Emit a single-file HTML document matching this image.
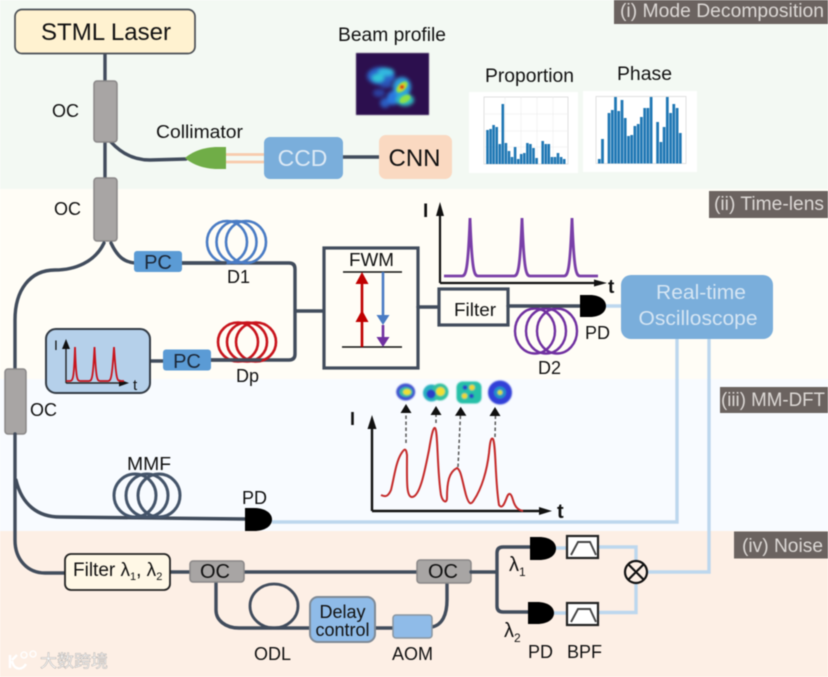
<!DOCTYPE html>
<html><head><meta charset="utf-8"><style>
html,body{margin:0;padding:0;background:#fff;width:828px;height:677px;overflow:hidden}
svg{display:block;filter:blur(.42px)}
text{font-family:"Liberation Sans","Noto Sans CJK SC",sans-serif;fill:#111}
.f{fill:none;stroke:#414c5c;stroke-width:3.4;stroke-linecap:round;stroke-linejoin:round}
.l{fill:none;stroke:#bdd7ee;stroke-width:3.4}
.oc{fill:#a8a5a4;stroke:#8a8888;stroke-width:1.5}
.tag{fill:#6b6360}
.tt{fill:#dcd8d5;font-size:19px}
.lb{font-size:18px}
.pd{fill:#000}
</style></head><body>
<svg width="828" height="677" viewBox="0 0 828 677" xmlns="http://www.w3.org/2000/svg">
<defs>
<filter id="b3" x="-50%" y="-50%" width="200%" height="200%"><feGaussianBlur stdDeviation="1.8"/></filter>
<filter id="b1" x="-50%" y="-50%" width="200%" height="200%"><feGaussianBlur stdDeviation=".7"/></filter>
</defs>
<rect x="0" y="0" width="828" height="189" fill="#f3f9f3"/>
<rect x="0" y="189" width="828" height="190" fill="#fffdf6"/>
<rect x="0" y="379" width="828" height="152" fill="#f8fbff"/>
<rect x="0" y="531" width="828" height="146" fill="#fdefe5"/>

<!-- section tags -->
<rect class="tag" x="614" y="0" width="214" height="24"/>
<text class="tt" x="620" y="17" textLength="204" lengthAdjust="spacingAndGlyphs">(i) Mode Decomposition</text>
<rect class="tag" x="709" y="191" width="119" height="27"/>
<text class="tt" x="714" y="210" textLength="110" lengthAdjust="spacingAndGlyphs">(ii) Time-lens</text>
<rect class="tag" x="720" y="387" width="108" height="26"/>
<text class="tt" x="721" y="406" textLength="104" lengthAdjust="spacingAndGlyphs">(iii) MM-DFT</text>
<rect class="tag" x="734" y="531.5" width="94" height="27"/>
<text class="tt" x="742" y="552" textLength="81" lengthAdjust="spacingAndGlyphs">(iv) Noise</text>

<!-- top section -->
<path class="f" d="M105,54V81M105,142V178M111,142C120,152 132,160 150,160L186,159M343,157H379"/>
<rect x="15" y="9.5" width="180" height="44" rx="7" fill="#fff2d0" stroke="#4a4f55" stroke-width="1.7"/>
<text x="41" y="40" font-size="24" textLength="130" lengthAdjust="spacingAndGlyphs">STML Laser</text>
<rect class="oc" x="94" y="81" width="23" height="61" rx="3"/>
<rect class="oc" x="94" y="178" width="23" height="63" rx="3"/>
<text class="lb" x="52" y="117">OC</text>
<text class="lb" x="54" y="215">OC</text>
<text x="156" y="138" font-size="18" textLength="87" lengthAdjust="spacingAndGlyphs">Collimator</text>
<path d="M226,147H218C203,147 192,152 185,158C192,164 203,169 218,169H226Z" fill="#70ad47"/>
<path d="M226,154.5H264M226,162H264" stroke="#f8cbad" stroke-width="2.8" fill="none"/>
<rect x="264" y="137" width="79" height="42" rx="6" fill="#7aaedb"/>
<text x="302.5" y="166" font-size="23" text-anchor="middle" style="fill:#dce9f5">CCD</text>
<rect x="379" y="135" width="73" height="44" rx="7" fill="#fad9c1"/>
<text x="414.5" y="166" font-size="24" text-anchor="middle">CNN</text>

<text x="338" y="41" font-size="19" textLength="108" lengthAdjust="spacingAndGlyphs">Beam profile</text>
<svg x="356" y="53" width="73" height="62" viewBox="356 53 73 62">
<rect x="356" y="53" width="73" height="62" fill="#2c0f4e"/>
<g filter="url(#b3)">
<ellipse cx="381" cy="76" rx="14" ry="9" fill="#2a62c8"/>
<ellipse cx="386" cy="72" rx="8" ry="4" fill="#30b8e0"/>
<ellipse cx="378" cy="78" rx="6" ry="4" fill="#30c8d8"/>
<ellipse cx="379" cy="93" rx="6" ry="4" fill="#2a3f9f"/>
<ellipse cx="385" cy="103" rx="5" ry="5" fill="#2c5cc0"/>
<ellipse cx="393" cy="98" rx="6" ry="7" fill="#2c78e0"/>
<ellipse cx="386" cy="85" rx="6" ry="3" fill="#2a50b0"/>
<ellipse cx="402" cy="87" rx="9" ry="10" fill="#2f9fe0"/>
<ellipse cx="405" cy="100" rx="9" ry="6" fill="#30c0c0"/>
</g>
<g filter="url(#b1)">
<ellipse cx="405" cy="99" rx="6" ry="3.5" fill="#8fe04a" transform="rotate(-30 405 99)"/>
<ellipse cx="402" cy="87" rx="7" ry="4" fill="#8fe04a" transform="rotate(-45 402 87)"/>
<ellipse cx="402" cy="87" rx="4" ry="2.8" fill="#e8c820" transform="rotate(-45 402 87)"/>
<ellipse cx="402" cy="87" rx="2" ry="1.7" fill="#d01818"/>
</g>
</svg>

<text x="485" y="82" font-size="19" textLength="89" lengthAdjust="spacingAndGlyphs">Proportion</text>
<text x="617" y="80" font-size="19" textLength="55" lengthAdjust="spacingAndGlyphs">Phase</text>
<rect x="469" y="92" width="109" height="81" fill="#fff"/>
<rect x="583" y="91" width="114" height="81" fill="#fff"/>
<rect x="484" y="97" width="84" height="67" fill="none" stroke="#d5d5d5" stroke-width=".7"/>
<path d="M505,97V164M521,97V164M537,97V164M553,97V164M484,114H568M484,131H568M484,147H568" stroke="#ececec" stroke-width=".6"/>
<path fill="none" stroke="#1f77b4" stroke-width="2.6" d="M487.5,164V130M490.6,164V129M493.6,164V125M496.7,164V127M499.8,164V144M502.8,164V104M505.9,164V143M509,164V151M512,164V157M515.1,164V147M518.2,164V159M521.2,164V154M524.3,164V153M527.4,164V143M530.4,164V144M533.5,164V148M536.6,164V158M542.7,164V141M545.8,164V144M548.8,164V144M551.9,164V157M555,164V157M558,164V153M561.1,164V157M564.2,164V159"/>
<rect x="596" y="96.5" width="90" height="67" fill="none" stroke="#d5d5d5" stroke-width=".7"/>
<path fill="none" stroke="#1f77b4" stroke-width="2.75" d="M599.3,163.5V159M602.5,163.5V139M609,163.5V113M612.3,163.5V110M615.5,163.5V97M618.7,163.5V111M622,163.5V100M625.2,163.5V118M628.5,163.5V136M631.7,163.5V135M634.9,163.5V126M638.2,163.5V124M641.4,163.5V117M644.7,163.5V108M647.9,163.5V108M651.1,163.5V97M657.6,163.5V122M660.9,163.5V142M664.1,163.5V127M667.3,163.5V97M670.6,163.5V113M673.8,163.5V104M677.1,163.5V108M680.3,163.5V133"/>

<!-- time-lens -->
<path class="f" d="M104,243C95,262 75,270 55,270C30,270 15,290 15,320V369M111,243C118,258 125,262 135,263M182,263H289Q295,263 295,269V354Q295,360 289,360H211M149,361H163M295,311H324"/>
<g fill="none" stroke="#4a7cc4" stroke-width="2.6">
<ellipse cx="227" cy="242" rx="20" ry="21"/><ellipse cx="236.5" cy="242" rx="20" ry="21"/><ellipse cx="246" cy="242" rx="20" ry="21"/>
</g>
<g fill="none" stroke="#c8141c" stroke-width="2.6">
<ellipse cx="238" cy="342" rx="20" ry="19.5"/><ellipse cx="247" cy="342" rx="20" ry="19.5"/><ellipse cx="256" cy="342" rx="20" ry="19.5"/>
</g>
<path class="f" d="M182,263H225M211,360H260"/>
<rect x="134" y="251" width="48" height="21" rx="3" fill="#5b9bd5"/>
<text x="158" y="269" font-size="20" text-anchor="middle" style="fill:#1c2838">PC</text>
<rect x="163" y="349.5" width="48" height="21" rx="3" fill="#5b9bd5"/>
<text x="187" y="368" font-size="20" text-anchor="middle" style="fill:#1c2838">PC</text>
<text class="lb" x="227" y="283">D1</text>
<text class="lb" x="236" y="382">Dp</text>

<rect x="46" y="329" width="104" height="64" rx="10" fill="#b5d0ea" stroke="#333b45" stroke-width="2"/>
<path d="M66,383V345M66,383H124" stroke="#222" stroke-width="1.4" fill="none"/>
<path d="M66,339L62,349H70ZM129,383L119,379.5V386.5Z" fill="#111"/>
<text x="54" y="350" font-size="14">I</text>
<text x="133" y="390" font-size="15">t</text>
<path d="M66,381H70C73,381 74,378 75,347C76,378 77,381 80,381H89C92,381 93,378 94.5,347C96,378 97,381 100,381H108C111,381 112,378 114,347C116,378 117,381 120,381H124" fill="none" stroke="#c8141c" stroke-width="1.8"/>

<rect x="324" y="248" width="94" height="120" fill="#fffdf6" stroke="#414c5c" stroke-width="3.2"/>
<text x="349" y="266" font-size="18" textLength="45" lengthAdjust="spacingAndGlyphs">FWM</text>
<path d="M343,272H402M342,347H402" stroke="#111" stroke-width="1.6"/>
<path d="M362,347V280" stroke="#c00000" stroke-width="2.6"/>
<path d="M362,272L355.5,284H368.5ZM362,310L355.5,322H368.5Z" fill="#c00000"/>
<path d="M383,272V318" stroke="#4a7cc4" stroke-width="2.6"/>
<path d="M383,325L376.5,315H389.5Z" fill="#4a7cc4"/>
<path d="M383,325V342" stroke="#7030a0" stroke-width="2.6"/>
<path d="M383,347L376.5,337H389.5Z" fill="#7030a0"/>

<path d="M440,283V208M440,283H600" fill="none" stroke="#111" stroke-width="2.2"/>
<path d="M440,202L436,216H444ZM607,283L594,279.5V286.5Z" fill="#111"/>
<text x="423" y="217" font-size="19" font-weight="bold">I</text>
<text x="608" y="293" font-size="19" font-weight="bold">t</text>
<path d="M444,276H462C466,276 468,270 470,218C472,270 474,276 478,276H514C518,276 520,270 522,218C524,270 526,276 530,276H564C568,276 570,270 572,218C574,270 576,276 580,276H598" fill="none" stroke="#7a3fa8" stroke-width="2.8"/>

<path class="f" d="M418,307H439"/>
<rect x="439" y="289" width="69" height="36" fill="#fffdf6" stroke="#414c5c" stroke-width="3.2"/>
<text x="454" y="316" font-size="18" textLength="42" lengthAdjust="spacingAndGlyphs">Filter</text>
<g fill="none" stroke="#7030a0" stroke-width="2.4">
<ellipse cx="535" cy="331" rx="20" ry="22.5"/><ellipse cx="546" cy="331" rx="20" ry="22.5"/><ellipse cx="557" cy="331" rx="20" ry="22.5"/>
</g>
<path class="f" d="M508,306H580"/>
<path class="pd" d="M580,295H590C600,295 606,300 606,306C606,312 600,317 590,317H580Z"/>
<text class="lb" x="585" y="339">PD</text>
<text class="lb" x="538" y="374">D2</text>
<path class="l" d="M606,306H622M677,339V522H272M709,339V572H648"/>
<rect x="621" y="275" width="152" height="64" rx="10" fill="#7aaedb"/>
<text x="701" y="299" font-size="20" text-anchor="middle" textLength="90" lengthAdjust="spacingAndGlyphs" style="fill:#d5e5f3">Real-time</text>
<text x="698" y="325" font-size="20" text-anchor="middle" textLength="119" lengthAdjust="spacingAndGlyphs" style="fill:#d5e5f3">Oscilloscope</text>

<!-- MM-DFT -->
<rect class="oc" x="5" y="369" width="21" height="65" rx="3"/>
<text class="lb" x="30" y="416">OC</text>
<path class="f" d="M15,434V540C15,560 28,573 45,573H65M16,480C22,505 38,517 60,517L245,519"/>
<g fill="none" stroke="#44546a" stroke-width="3">
<ellipse cx="135" cy="495.5" rx="21" ry="21.5"/><ellipse cx="147" cy="495.5" rx="21" ry="21.5"/><ellipse cx="159" cy="495.5" rx="21" ry="21.5"/>
</g>
<text class="lb" x="127" y="470" textLength="44" lengthAdjust="spacingAndGlyphs">MMF</text>
<path class="pd" d="M245,508H254C265,508 272,513 272,519.5C272,526 265,531 254,531H245Z"/>
<text class="lb" x="242" y="504">PD</text>

<path d="M372,511V422M372,511H545" fill="none" stroke="#111" stroke-width="2.4"/>
<path d="M372,415L367.5,429H376.5ZM552,511L539,507V515Z" fill="#111"/>
<text x="350" y="425" font-size="18" font-weight="bold">I</text>
<text x="557" y="518" font-size="20" font-weight="bold">t</text>
<path d="M381,495C385,497 388,497 391,490C394,478 396,462 401,454C404,449 406,447 407,455C407,480 406,497 412,497C420,497 425,470 429,450C431,438 433,427 435,428C438,430 437,470 441,495C443,503 447,503 447,498C447,482 449,472 457,468C461,470 462,480 466,495C469,505 471,505 474,500C482,488 487,470 489,453C490,442 491,437 493,439C496,445 495,480 499,505C502,509 504,505 507,497C509,492 511,493 513,500C515,507 518,510 523,511" fill="none" stroke="#c42a2a" stroke-width="2"/>
<path d="M406,443V412M436,423V412M458,467L460.5,414M495,437L495.5,414" stroke="#555" stroke-width="1.5" stroke-dasharray="3.5 2.5" fill="none"/>
<path d="M406,404L400.5,413H411.5ZM436,406L430.5,415H441.5ZM460.7,406.7L455,415.7H466.4ZM495,407L489.5,416H500.5Z" fill="#111"/>
<g filter="url(#b1)">
<ellipse cx="405.7" cy="392" rx="9.5" ry="8.5" fill="#3f52d0"/>
<ellipse cx="406" cy="392" rx="6.5" ry="5" fill="#38c0a0"/>
<ellipse cx="407" cy="392" rx="4" ry="3" fill="#f0e030"/>
<circle cx="431.5" cy="393" r="8.5" fill="#25b0c0"/>
<circle cx="440" cy="392" r="8.5" fill="#30c0a0"/>
<circle cx="431" cy="394" r="4.5" fill="#2a3cc8"/>
<circle cx="440.5" cy="391.5" r="4.5" fill="#f0e030"/>
<rect x="456.5" y="381.5" width="25" height="22" rx="6" fill="#25c0a8"/>
<circle cx="472" cy="387.5" r="2.8" fill="#f0d830"/><circle cx="464.5" cy="396" r="2.8" fill="#f0d830"/>
<circle cx="465" cy="387.5" r="2.3" fill="#2a3cc8"/><circle cx="471.5" cy="396" r="2.3" fill="#2a3cc8"/>
<circle cx="500" cy="392.5" r="12" fill="#3040d8"/>
<circle cx="500" cy="392.5" r="6" fill="#2090c8"/>
<circle cx="500" cy="392.5" r="2.5" fill="#d8e040"/>
</g>

<!-- noise -->
<path class="f" d="M170,572H190M244,572H417M216,582V610C216,620 225,628 239,628H310M375,628H393M432,627C442,625 447,615 447,600V583"/>
<ellipse cx="274" cy="606" rx="24" ry="22" fill="none" stroke="#414c5c" stroke-width="2.8"/>
<rect x="65" y="554" width="105" height="36" rx="6" fill="#fff8e6" stroke="#222" stroke-width="1.8"/>
<text x="73" y="576" font-size="19">Filter λ<tspan font-size="11" dy="4">1</tspan><tspan dy="-4">, λ</tspan><tspan font-size="11" dy="4">2</tspan></text>
<rect class="oc" x="190" y="561" width="54" height="21" rx="3"/>
<text x="215" y="578" font-size="20" text-anchor="middle">OC</text>
<rect class="oc" x="417" y="560" width="54" height="23" rx="3"/>
<text x="443" y="578" font-size="20" text-anchor="middle">OC</text>
<rect x="310" y="597" width="65" height="45" rx="8" fill="#8fbbe8" stroke="#7f8a96" stroke-width="2"/>
<text x="342.5" y="618" font-size="18" text-anchor="middle">Delay</text>
<text x="342.5" y="636" font-size="18" text-anchor="middle">control</text>
<rect x="393" y="615" width="39" height="23" rx="3" fill="#8fbbe8" stroke="#8a96a0" stroke-width="1.5"/>
<text class="lb" x="254" y="660">ODL</text>
<text class="lb" x="392" y="660">AOM</text>

<path class="f" d="M471,572H497M530,547H503Q497,547 497,553V606Q497,612 503,612H528"/>
<path class="pd" d="M530,537H539C550,537 556,542 556,548.5C556,555 550,560 539,560H530Z"/>
<path class="pd" d="M528,602H537C548,602 554,607 554,613C554,619 548,624 537,624H528Z"/>
<text x="509" y="571" font-size="20">λ<tspan font-size="12" dy="5">1</tspan></text>
<text x="504" y="637" font-size="20">λ<tspan font-size="12" dy="5">2</tspan></text>
<path class="l" d="M556,548H567M554,613H567M598,547H636V561M636,584V612.5H598"/>
<rect x="567" y="536" width="31" height="22" fill="#fff" stroke="#222" stroke-width="2.2"/>
<rect x="567" y="603" width="31" height="22" fill="#fff" stroke="#222" stroke-width="2.2"/>
<path d="M571,555L578,542H590L596,555M571,622L578,609H590L596,622" fill="none" stroke="#444" stroke-width="1.9"/>
<circle cx="636" cy="572" r="11" fill="none" stroke="#111" stroke-width="2.2"/>
<path d="M628.5,564.5L643.5,579.5M643.5,564.5L628.5,579.5" stroke="#111" stroke-width="2.2"/>
<text class="lb" x="528" y="658">PD</text>
<text class="lb" x="567" y="658">BPF</text>

<!-- watermark -->
<g>
<path d="M10,655V668M12,660L17,655M12,661C14,670 22,671 26,664" fill="none" stroke="#fff" stroke-width="2.4"/>
<circle cx="24" cy="655" r="3" fill="none" stroke="#fff" stroke-width="1.3"/>
<circle cx="33" cy="654" r="3" fill="none" stroke="#fff" stroke-width="1.3"/>
<text x="40" y="667" font-size="17" style="fill:#fff;stroke:#b5b1ae;stroke-width:.5">大数跨境</text>
</g>
</svg>
</body></html>
